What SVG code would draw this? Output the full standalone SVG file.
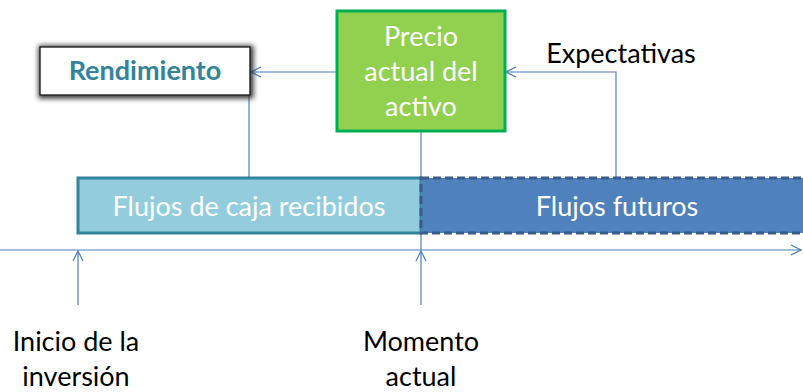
<svg xmlns="http://www.w3.org/2000/svg" width="803" height="392" viewBox="0 0 803 392">
<defs>
<style>
.ln{stroke:#4A7EBB;stroke-width:1.2;fill:none}
.t{font-family:Lato,"Liberation Sans",sans-serif;font-size:27px;text-anchor:middle}
.w{fill:#FFFFFF}
.k{fill:#000000}
</style>
<marker id="ah" viewBox="0 0 12 12" refX="11" refY="6" markerWidth="12" markerHeight="12" markerUnits="userSpaceOnUse" orient="auto">
<path d="M1,1 L11,6 L1,11" fill="none" stroke="#4A7EBB" stroke-width="1.2"/>
</marker>
<filter id="glow" x="-20%" y="-40%" width="140%" height="180%">
<feMorphology in="SourceAlpha" operator="dilate" radius="2" result="d"/>
<feGaussianBlur in="d" stdDeviation="2.5"/>
<feOffset dx="1" dy="1" result="b"/>
<feFlood flood-color="#3A3A3A" flood-opacity="1"/>
<feComposite in2="b" operator="in"/>
<feMerge><feMergeNode/><feMergeNode in="SourceGraphic"/></feMerge>
</filter>
</defs>
<rect width="803" height="392" fill="#FFFFFF"/>
<g id="connectors">
<line class="ln" x1="0" y1="250" x2="801" y2="250" marker-end="url(#ah)"/>
<line class="ln" x1="336" y1="72" x2="251" y2="72" marker-end="url(#ah)"/>
<line class="ln" x1="249" y1="72" x2="249" y2="177"/>
<polyline class="ln" points="616,177 616,72 506,72" marker-end="url(#ah)"/>
<line class="ln" x1="421" y1="132" x2="421" y2="250"/>
<line class="ln" x1="78" y1="305" x2="78" y2="251" marker-end="url(#ah)"/>
<line class="ln" x1="421" y1="305" x2="421" y2="251" marker-end="url(#ah)"/>
</g>
<g id="rendimiento">
<rect x="40" y="47" width="210" height="48" fill="#FFFFFF" stroke="#000000" stroke-width="1.2" filter="url(#glow)"/>
<text x="145" y="80" class="t" style="font-weight:bold;fill:#31849B;font-size:27px">Rendimiento</text>
</g>
<g id="precio">
<rect x="337" y="11" width="168" height="120" fill="#92D050" stroke="#00B050" stroke-width="3"/>
<text class="t w" x="421" y="46">Precio</text>
<text class="t w" x="421" y="81">actual del</text>
<text class="t w" x="421" y="116">activo</text>
</g>
<g id="flujos-recibidos">
<rect x="78" y="178" width="343" height="55" fill="#93CDDD" stroke="#31849B" stroke-width="3"/>
<text class="t w" x="249" y="216">Flujos de caja recibidos</text>
</g>
<g id="flujos-futuros">
<rect x="421" y="178" width="384" height="55" fill="#4F81BD" stroke="#385D8A" stroke-width="3" stroke-dasharray="8,4"/>
<text class="t w" x="617" y="216">Flujos futuros</text>
</g>
<g id="expectativas">
<text class="t k" x="621" y="63">Expectativas</text>
</g>
<g id="inicio">
<text class="t k" x="76" y="351">Inicio de la</text>
<text class="t k" x="76" y="386">inversión</text>
</g>
<g id="momento">
<text class="t k" x="421" y="351">Momento</text>
<text class="t k" x="421" y="386">actual</text>
</g>
</svg>
